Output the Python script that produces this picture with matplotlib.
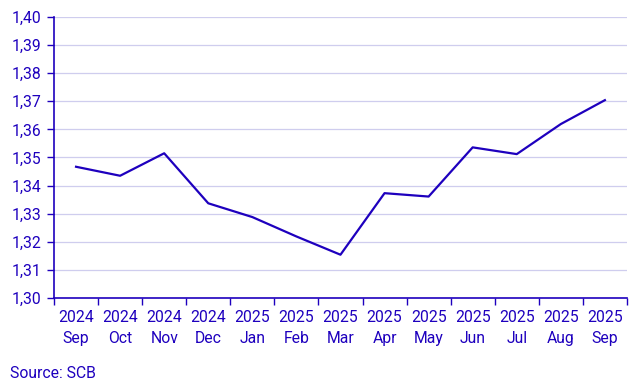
import matplotlib
matplotlib.use("Agg")
from matplotlib import pyplot as plt
from matplotlib.ticker import FixedLocator, FuncFormatter

# data
months = ["Sep", "Oct", "Nov", "Dec", "Jan", "Feb", "Mar",
          "Apr", "May", "Jun", "Jul", "Aug", "Sep"]
years = ["2024", "2024", "2024", "2024", "2025", "2025", "2025",
         "2025", "2025", "2025", "2025", "2025", "2025"]
values = [1.3467, 1.3435, 1.3515, 1.3337, 1.3288, 1.3219, 1.3154,
          1.3373, 1.3361, 1.3536, 1.3512, 1.3619, 1.3704]
yticks = [1.30, 1.31, 1.32, 1.33, 1.34, 1.35, 1.36, 1.37, 1.38, 1.39, 1.40]

# style
BLUE = "#1e00be"
GRID = "#cfcdee"
plt.rcParams["font.family"] = ["Roboto", "DejaVu Sans"]
plt.rcParams["font.size"] = 11.3

fig = plt.figure(figsize=(6.43, 3.86), dpi=100)
ax = fig.add_axes([0.084, 0.228, 0.891, 0.728])

x = list(range(len(values)))
ax.plot(x, values, color=BLUE, lw=1.6, zorder=3)

ax.set_xlim(-0.5, len(values) - 0.5)
ax.set_ylim(yticks[0], yticks[-1])

# y axis
ax.yaxis.set_major_locator(FixedLocator(yticks))
ax.yaxis.set_major_formatter(FuncFormatter(lambda v, p: f"{v:.2f}".replace(".", ",")))
ax.grid(axis="y", color=GRID, lw=0.9, zorder=0)
ax.set_axisbelow(True)

# x axis: ticks on band edges, labels on band centres
ax.set_xticks([i - 0.5 for i in range(len(values) + 1)])
ax.set_xticklabels([])
ax.set_xticks(x, minor=True)
ax.set_xticklabels([f"{y}\n{m}" for y, m in zip(years, months)], minor=True,
                   linespacing=1.45)
ax.tick_params(axis="x", which="minor", length=0, pad=9)
ax.tick_params(axis="x", which="major", length=5, width=1, color=BLUE)
ax.tick_params(axis="y", length=5, width=1, color=BLUE, pad=4)
ax.tick_params(axis="both", which="both", labelcolor=BLUE)

for s in ("top", "right"):
    ax.spines[s].set_visible(False)
for s in ("left", "bottom"):
    ax.spines[s].set_color(BLUE)
    ax.spines[s].set_linewidth(1.2)

fig.text(0.015, 0.02, "Source: SCB", color=BLUE, fontsize=11.3)

fig.savefig("out.png", dpi=100)
